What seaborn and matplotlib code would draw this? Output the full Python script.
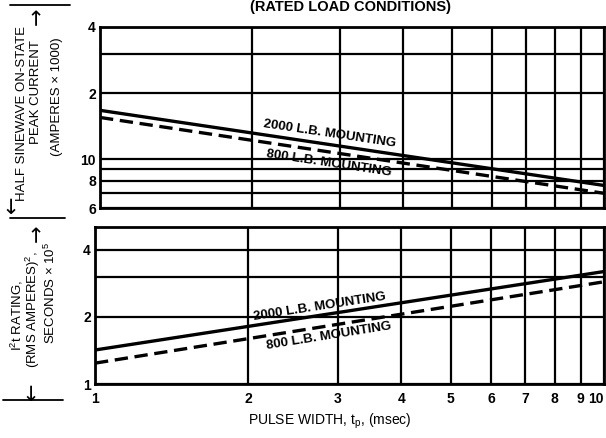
import numpy as np
import pandas as pd
import matplotlib
matplotlib.use("Agg")
import matplotlib.pyplot as plt
import seaborn as sns
from matplotlib.ticker import FixedLocator, FixedFormatter, NullLocator
from matplotlib.lines import Line2D

# ---------------- data ----------------
pulse_width_ms = [1, 10]
mountings = ["2000 L.B. MOUNTING", "800 L.B. MOUNTING"]
peak_current_2000 = [16.7, 7.6]   # amperes x 1000
peak_current_800 = [15.5, 7.0]
i2t_2000 = [1.42, 3.19]           # seconds x 10^5
i2t_800 = [1.24, 2.87]

x_ticks = [1, 2, 3, 4, 5, 6, 7, 8, 9, 10]
x_tick_labels = ["1", "2", "3", "4", "5", "6", "7", "8", "9", "10"]
top_y_grid = [6, 7, 8, 9, 10, 20, 30, 40]
top_y_labels = ["6", "", "8", "", "10", "2", "", "4"]
bot_y_grid = [1, 2, 3, 4]
bot_y_labels = ["1", "2", "", "4"]

df_top = pd.DataFrame({
    "pulse": pulse_width_ms * 2,
    "value": peak_current_2000 + peak_current_800,
    "mounting": [mountings[0]] * 2 + [mountings[1]] * 2,
})
df_bot = pd.DataFrame({
    "pulse": pulse_width_ms * 2,
    "value": i2t_2000 + i2t_800,
    "mounting": [mountings[0]] * 2 + [mountings[1]] * 2,
})

# ---------------- style ----------------
sns.set_theme(style="white")
plt.rcParams["font.family"] = ["Liberation Sans", "DejaVu Sans"]

W, H = 606, 438
fig = plt.figure(figsize=(W / 100, H / 100), dpi=100)

def px_axes(l, t, r, b):
    return fig.add_axes([l / W, 1 - b / H, (r - l) / W, (b - t) / H])

ax_top = px_axes(100, 27, 604, 208)
ax_bot = px_axes(95, 227, 604, 384)

pal = {mountings[0]: "black", mountings[1]: "black"}
dash = {mountings[0]: "", mountings[1]: (4, 2)}

for ax, df, ylim, ygrid, ylabels in [
    (ax_top, df_top, (6, 40), top_y_grid, top_y_labels),
    (ax_bot, df_bot, (1, 5.05), bot_y_grid, bot_y_labels),
]:
    ax.set_xscale("log")
    ax.set_yscale("log")
    sns.lineplot(data=df, x="pulse", y="value", hue="mounting", style="mounting",
                 palette=pal, dashes=dash, legend=False, ax=ax, linewidth=2.4)
    ax.set_xlim(1, 10)
    ax.set_ylim(*ylim)
    ax.xaxis.set_major_locator(FixedLocator(x_ticks))
    ax.xaxis.set_minor_locator(NullLocator())
    ax.yaxis.set_major_locator(FixedLocator(ygrid))
    ax.yaxis.set_minor_locator(NullLocator())
    ax.yaxis.set_major_formatter(FixedFormatter(ylabels))
    ax.grid(True, which="major", color="black", linewidth=1.6)
    for s in ax.spines.values():
        s.set_color("black")
        s.set_linewidth(2.0)
    ax.tick_params(axis="both", length=0, pad=3, labelsize=10, colors="black")
    ax.set_xlabel("")
    ax.set_ylabel("")
    for lab in ax.get_yticklabels():
        lab.set_fontweight("bold")

ax_top.xaxis.set_major_formatter(FixedFormatter([""] * len(x_ticks)))
ax_bot.xaxis.set_major_formatter(FixedFormatter(x_tick_labels))
ax_bot.tick_params(axis="x", pad=6)
xlabs = ax_bot.get_xticklabels()
for lab in xlabs:
    lab.set_fontweight("bold")
xlabs[-1].set_horizontalalignment("right")

# ---------------- line labels ----------------
def line_angle(ax, xs, ys):
    p = ax.transData.transform(np.column_stack([xs, ys]))
    return np.degrees(np.arctan2(p[1, 1] - p[0, 1], p[1, 0] - p[0, 0]))

def value_at(xs, ys, x):
    lx, ly = np.log10(xs), np.log10(ys)
    return 10 ** np.interp(np.log10(x), lx, ly)

fig.canvas.draw()
for ax, s1, s2, xl1, xl2, off1, off2 in [
    (ax_top, peak_current_2000, peak_current_800, 2.1, 2.15, 3, -4),
    (ax_bot, i2t_2000, i2t_800, 2.06, 2.16, 2, -3),
]:
    a1 = line_angle(ax, pulse_width_ms, s1)
    a2 = line_angle(ax, pulse_width_ms, s2)
    ax.annotate(mountings[0], (xl1, value_at(pulse_width_ms, s1, xl1)),
                xytext=(0, off1), textcoords="offset points",
                rotation=a1, rotation_mode="anchor", ha="left", va="bottom",
                fontsize=9.5, fontweight="bold", color="black")
    ax.annotate(mountings[1], (xl2, value_at(pulse_width_ms, s2, xl2)),
                xytext=(0, off2), textcoords="offset points",
                rotation=a2, rotation_mode="anchor", ha="left", va="top",
                fontsize=9.5, fontweight="bold", color="black")

# ---------------- titles & axis labels ----------------
def fx(x):
    return x / W

def fy(y):
    return 1 - y / H

fig.text(fx(350), fy(7), "(RATED LOAD CONDITIONS)", ha="center", va="center",
         fontsize=10.5, fontweight="bold", color="black")
fig.text(fx(330), fy(421), "PULSE WIDTH, t$_\\mathregular{p}$, (msec)", ha="center",
         va="center", fontsize=10, color="black")

lab_kw = dict(rotation=90, ha="center", va="center", fontsize=9.5, color="black")
arrow_kw = dict(rotation=90, ha="center", va="center", fontsize=15,
                family="DejaVu Sans", color="black")
# top panel label
fig.text(fx(22), fy(113), "HALF SINEWAVE ON-STATE", **lab_kw)
fig.text(fx(36), fy(92), "PEAK CURRENT", **lab_kw)
fig.text(fx(57), fy(97), "(AMPERES \u00d7 1000)", **lab_kw)
fig.text(fx(37), fy(16), "\u2192", **arrow_kw)
fig.text(fx(12), fy(204), "\u2190", **arrow_kw)
# bottom panel label
fig.text(fx(17), fy(315), "I$^\\mathregular{2}$t RATING,", **lab_kw)
fig.text(fx(33), fy(310), "(RMS AMPERES)$^\\mathregular{2}$,", **lab_kw)
fig.text(fx(50), fy(293), "SECONDS \u00d7 10$^\\mathregular{5}$", **lab_kw)
fig.text(fx(37), fy(233), "\u2192", **arrow_kw)
fig.text(fx(32), fy(391), "\u2190", **arrow_kw)

# decorative separator rules at left
for (x0, x1, y) in [(10, 70, 5), (10, 65, 218), (3, 63, 400)]:
    fig.add_artist(Line2D([fx(x0), fx(x1)], [fy(y), fy(y)], color="black",
                          linewidth=1.3, transform=fig.transFigure))

fig.savefig("out.png", dpi=100, facecolor="white")
